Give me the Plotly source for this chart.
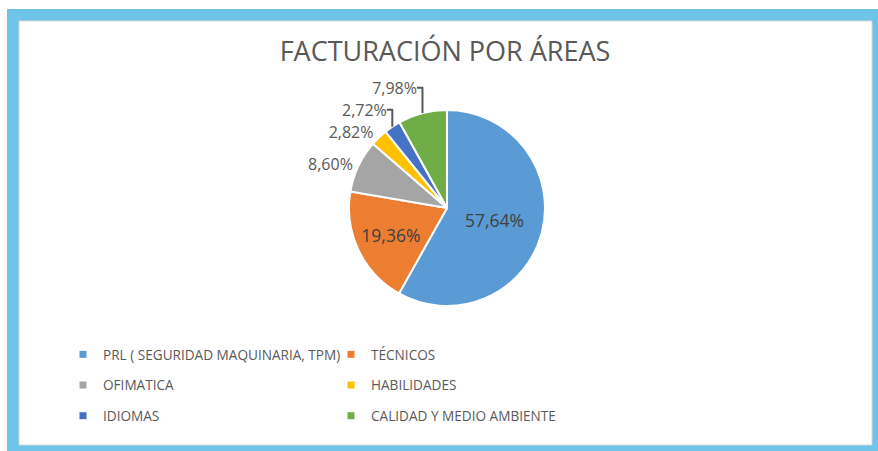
import plotly.graph_objects as go

W, H = 878, 451

categories = ["PRL ( SEGURIDAD MAQUINARIA, TPM)", "TÉCNICOS", "OFIMATICA",
              "HABILIDADES", "IDIOMAS", "CALIDAD Y MEDIO AMBIENTE"]
shares = [57.64, 19.36, 8.60, 2.82, 2.72, 7.98]
colors = ["#5B9BD5", "#ED7D31", "#A5A5A5", "#FFC000", "#4472C4", "#70AD47"]
label_pos = ["inside", "inside", "outside", "outside", "outside", "outside"]
legend_cols = ["legend", "legend2", "legend", "legend2", "legend", "legend2"]

texts = [f"{v:.2f}".replace(".", ",") + "%" for v in shares]

def px_x(p):
    return p / W

def px_y(p):
    return 1 - p / H

FONT = "Open Sans"
TXT = "#595959"

fig = go.Figure()

cx, cy, r = 447, 208, 98
fig.add_trace(go.Pie(
    labels=categories, values=shares, text=texts,
    textinfo="text", textposition=label_pos,
    sort=False, direction="clockwise", rotation=0,
    marker=dict(colors=colors, line=dict(color="white", width=2)),
    outsidetextfont=dict(family=FONT, size=16, color=TXT),
    insidetextfont=dict(family=FONT, size=17.5, color="#404040"),
    domain=dict(x=[px_x(cx - r), px_x(cx + r)], y=[px_y(cy + r), px_y(cy - r)]),
    showlegend=False, hoverinfo="label+text",
))

for name, col, lg in zip(categories, colors, legend_cols):
    fig.add_trace(go.Scatter(
        x=[None], y=[None], mode="markers", name=name, legendgroup=name,
        marker=dict(symbol="square", size=7, color=col), legend=lg,
        hoverinfo="skip",
    ))

legend_common = dict(
    orientation="v", xanchor="left", yanchor="top",
    font=dict(family=FONT, size=13.6, color=TXT),
    bgcolor="rgba(0,0,0,0)", tracegroupgap=10, itemclick=False,
)

fig.update_layout(
    width=W, height=H,
    margin=dict(l=0, r=0, t=0, b=0),
    paper_bgcolor="white", plot_bgcolor="white",
    xaxis=dict(visible=False), yaxis=dict(visible=False),
    title=dict(text="FACTURACIÓN POR ÁREAS", x=px_x(445), y=px_y(52),
               xanchor="center", yanchor="middle",
               font=dict(family=FONT, size=27, color=TXT)),
    legend=dict(x=px_x(63), y=px_y(339), **legend_common),
    legend2=dict(x=px_x(331), y=px_y(339), **legend_common),
    shapes=[
        dict(type="rect", xref="paper", yref="paper", layer="below",
             x0=px_x(7), x1=px_x(890), y0=px_y(460), y1=px_y(9),
             fillcolor="#6EC3E9", line=dict(width=0)),
        dict(type="rect", xref="paper", yref="paper", layer="below",
             x0=px_x(19), x1=px_x(872), y0=px_y(445), y1=px_y(21),
             fillcolor="white", line=dict(color="#D9D9D9", width=1)),
    ],
)

fig.write_html("out.html", config={"displayModeBar": False},
               post_script="document.body.style.margin='0';")
